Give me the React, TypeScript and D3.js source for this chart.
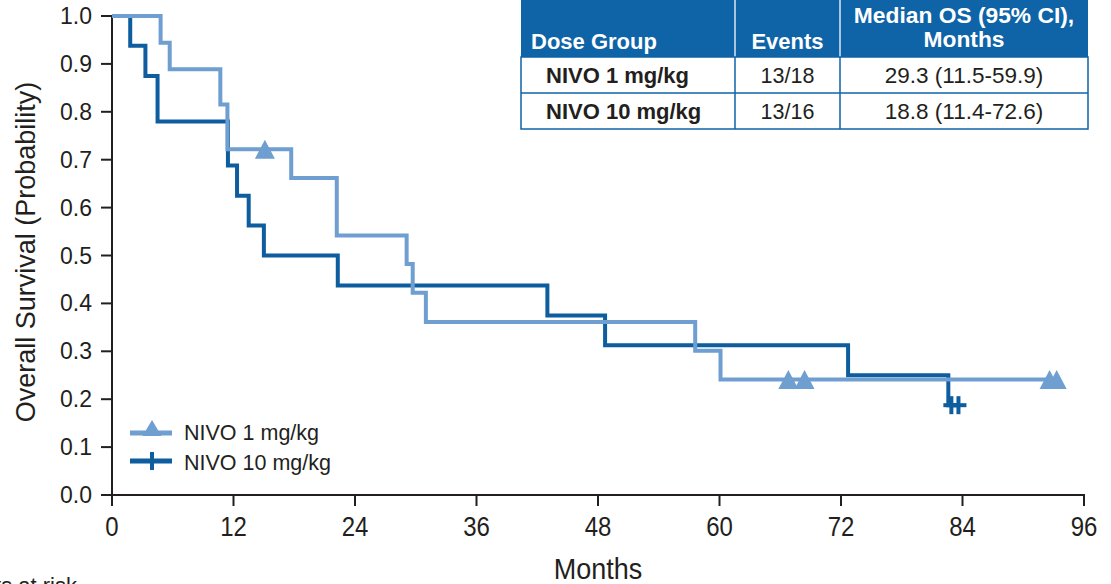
import React from "react";
import * as d3 from "d3";

// Kaplan–Meier overall survival by nivolumab dose group

const monthTicks = [0, 12, 24, 36, 48, 60, 72, 84, 96];
const survivalTicks = [0, 0.1, 0.2, 0.3, 0.4, 0.5, 0.6, 0.7, 0.8, 0.9, 1.0];

// NIVO 1 mg/kg: step times (months) and survival after each step
const lowDoseTimes = [0, 4.8, 5.7, 10.7, 11.4, 17.7, 22.2, 29.1, 29.7, 31.0, 57.6, 60.1, 93.3];
const lowDoseSurvival = [1, 0.944, 0.889, 0.815, 0.722, 0.662, 0.542, 0.482, 0.422, 0.361, 0.301, 0.241, 0.241];
const lowDoseCensored = [15.1, 66.8, 68.4, 92.6, 93.3];

// NIVO 10 mg/kg
const highDoseTimes = [0, 1.8, 3.3, 4.5, 11.45, 12.35, 13.5, 15.0, 22.3, 43.0, 48.7, 72.7, 82.6, 83.6];
const highDoseSurvival = [1, 0.938, 0.875, 0.78, 0.688, 0.625, 0.5625, 0.5, 0.4375, 0.375, 0.3125, 0.25, 0.1875, 0.1875];
const highDoseCensored = [82.9, 83.6];

// Summary table
const tableHeaders = ["Dose Group", "Events", "Median OS (95% CI),", "Months"];
const doseGroups = ["NIVO 1 mg/kg", "NIVO 10 mg/kg"];
const eventCounts = ["13/18", "13/16"];
const medianOS = ["29.3 (11.5-59.9)", "18.8 (11.4-72.6)"];

const LIGHT = "#6f9ed0";
const DARK = "#0d5d9f";
const HEADER = "#0f63a7";
const INK = "#231f20";
const FONT = "'Liberation Sans', Arial, Helvetica, sans-serif";

const W = 1111;
const H = 584;

const x = d3.scaleLinear().domain([0, 96]).range([112, 1084]);
const y = d3.scaleLinear().domain([0, 1]).range([495, 16]);

const stepLine = d3
  .line<[number, number]>()
  .x((d) => x(d[0]))
  .y((d) => y(d[1]))
  .curve(d3.curveStepAfter);

function survivalAt(times: number[], surv: number[], t: number) {
  const i = d3.bisectRight(times, t) - 1;
  return surv[Math.max(0, i)];
}

function triangle(cx: number, cy: number, w = 20, h = 19) {
  return `M${cx},${cy - h / 2}L${cx + w / 2},${cy + h / 2}L${cx - w / 2},${cy + h / 2}Z`;
}

export default function App() {
  const lowPts = lowDoseTimes.map((t, i) => [t, lowDoseSurvival[i]] as [number, number]);
  const highPts = highDoseTimes.map((t, i) => [t, highDoseSurvival[i]] as [number, number]);

  const colX = [521, 735, 840, 1088];
  const rowY = [-2, 57, 93, 129];

  return (
    <svg
      width={W}
      height={H}
      viewBox={`0 0 ${W} ${H}`}
      style={{ position: "absolute", left: 0, top: 0, background: "#fff" }}
      fontFamily={FONT}
    >
      <rect x={0} y={0} width={W} height={H} fill="#fff" />

      {/* Axes */}
      <line x1={x(0)} x2={x(0)} y1={y(1) - 1} y2={y(0)} stroke={INK} strokeWidth={2} />
      <line x1={x(0) - 1} x2={x(96) + 1} y1={y(0)} y2={y(0)} stroke={INK} strokeWidth={2} />
      {survivalTicks.map((v) => (
        <g key={`yt${v}`}>
          <line x1={x(0) - 11} x2={x(0)} y1={y(v)} y2={y(v)} stroke={INK} strokeWidth={2} />
          <text
            x={x(0) - 20}
            y={y(v)}
            textAnchor="end"
            dominantBaseline="central"
            fontSize={23}
            fill={INK}
          >
            {v.toFixed(1)}
          </text>
        </g>
      ))}
      {monthTicks.map((m) => (
        <g key={`xt${m}`}>
          <line x1={x(m)} x2={x(m)} y1={y(0)} y2={y(0) + 11} stroke={INK} strokeWidth={2} />
          <text
            transform={`translate(${x(m)},536) scale(1,1.15)`}
            textAnchor="middle"
            fontSize={24}
            fill={INK}
          >
            {m}
          </text>
        </g>
      ))}
      <text
        transform={`translate(${x(48)},579) scale(1,1.08)`}
        textAnchor="middle"
        fontSize={27}
        fill={INK}
      >
        Months
      </text>
      <text
        transform="translate(35,252) rotate(-90)"
        textAnchor="middle"
        fontSize={27}
        fill={INK}
      >
        Overall Survival (Probability)
      </text>
      <text x={77} y={593} textAnchor="end" fontSize={22} fill={INK}>
        Patients at risk
      </text>

      {/* Survival curves */}
      <path d={stepLine(highPts) ?? ""} fill="none" stroke={DARK} strokeWidth={4} />
      {highDoseCensored.map((t, i) => {
        const cx = x(t);
        const cy = y(survivalAt(highDoseTimes, highDoseSurvival, t));
        return (
          <g key={`hc${i}`} stroke={DARK} strokeWidth={4}>
            <line x1={cx} x2={cx} y1={cy - 9} y2={cy + 9} />
            <line x1={cx - 8} x2={cx + 8} y1={cy} y2={cy} />
          </g>
        );
      })}
      <path d={stepLine(lowPts) ?? ""} fill="none" stroke={LIGHT} strokeWidth={4} />
      {lowDoseCensored.map((t, i) => (
        <path
          key={`lc${i}`}
          d={triangle(x(t), y(survivalAt(lowDoseTimes, lowDoseSurvival, t)))}
          fill={LIGHT}
        />
      ))}

      {/* Legend */}
      <g>
        <line x1={130} x2={172} y1={433} y2={433} stroke={LIGHT} strokeWidth={5} />
        <path d={triangle(152, 428, 19, 16)} fill={LIGHT} />
        <text x={184} y={440} fontSize={21.5} fill={INK}>
          {doseGroups[0]}
        </text>
        <line x1={130} x2={172} y1={461} y2={461} stroke={DARK} strokeWidth={5} />
        <line x1={152} x2={152} y1={452} y2={470} stroke={DARK} strokeWidth={4} />
        <text x={184} y={470} fontSize={21.5} fill={INK}>
          {doseGroups[1]}
        </text>
      </g>

      {/* Summary table */}
      <g>
        <rect x={colX[0]} y={rowY[0]} width={colX[3] - colX[0]} height={rowY[1] - rowY[0]} fill={HEADER} />
        <line x1={colX[1]} x2={colX[1]} y1={rowY[0]} y2={rowY[1]} stroke="#dbe6f2" strokeWidth={1.5} />
        <line x1={colX[2]} x2={colX[2]} y1={rowY[0]} y2={rowY[1]} stroke="#dbe6f2" strokeWidth={1.5} />
        <rect
          x={colX[0]}
          y={rowY[1]}
          width={colX[3] - colX[0]}
          height={rowY[3] - rowY[1]}
          fill="#fff"
          stroke={HEADER}
          strokeWidth={1.5}
        />
        <line x1={colX[0]} x2={colX[3]} y1={rowY[2]} y2={rowY[2]} stroke={HEADER} strokeWidth={1.5} />
        <line x1={colX[1]} x2={colX[1]} y1={rowY[1]} y2={rowY[3]} stroke={HEADER} strokeWidth={1.5} />
        <line x1={colX[2]} x2={colX[2]} y1={rowY[1]} y2={rowY[3]} stroke={HEADER} strokeWidth={1.5} />

        <g fill="#fff" fontWeight="bold" fontSize={22}>
          <text x={531} y={49}>{tableHeaders[0]}</text>
          <text x={(colX[1] + colX[2]) / 2} y={49} textAnchor="middle">{tableHeaders[1]}</text>
          <text x={(colX[2] + colX[3]) / 2} y={23} textAnchor="middle" fontSize={22.8}>{tableHeaders[2]}</text>
          <text x={(colX[2] + colX[3]) / 2} y={47} textAnchor="middle" fontSize={22.8}>{tableHeaders[3]}</text>
        </g>
        {doseGroups.map((g, i) => {
          const base = (rowY[i + 1] + rowY[i + 2]) / 2 + 8;
          return (
            <g key={g} fill={INK} fontSize={22.5}>
              <text x={546} y={base} fontWeight="bold" fontSize={22}>{g}</text>
              <text x={(colX[1] + colX[2]) / 2} y={base} textAnchor="middle" fontSize={21.5}>{eventCounts[i]}</text>
              <text x={(colX[2] + colX[3]) / 2} y={base} textAnchor="middle">{medianOS[i]}</text>
            </g>
          );
        })}
      </g>
    </svg>
  );
}
